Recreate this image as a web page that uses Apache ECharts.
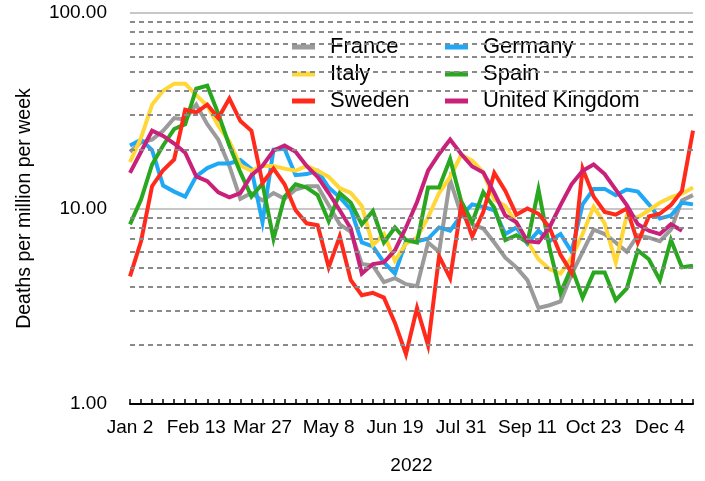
<!DOCTYPE html>
<html>
<head>
<meta charset="utf-8">
<script src="https://cdn.jsdelivr.net/npm/echarts@6/dist/echarts.min.js"></script>
<style>
html,body{margin:0;padding:0;background:#fff;}
#chart{width:705px;height:481px;}
</style>
</head>
<body>
<div id="chart"></div>
<script>
const categories = ["Jan 2","Jan 9","Jan 16","Jan 23","Jan 30","Feb 6","Feb 13","Feb 20","Feb 27","Mar 6","Mar 13","Mar 20","Mar 27","Apr 3","Apr 10","Apr 17","Apr 24","May 1","May 8","May 15","May 22","May 29","Jun 5","Jun 12","Jun 19","Jun 26","Jul 3","Jul 10","Jul 17","Jul 24","Jul 31","Aug 7","Aug 14","Aug 21","Aug 28","Sep 4","Sep 11","Sep 18","Sep 25","Oct 2","Oct 9","Oct 16","Oct 23","Oct 30","Nov 6","Nov 13","Nov 20","Nov 27","Dec 4","Dec 11","Dec 18","Dec 25"];

const france  = [19.5,21.8,22.5,25,29,28.5,34,27,22.5,16.5,11.2,12,11,12,11.2,12.5,13,13,10.4,8.3,7.6,5.2,5.1,4.2,4.4,4.1,4.0,6.7,6.0,14,9.3,8.3,7.9,6.7,5.6,5.0,4.3,3.1,3.2,3.35,4.6,6.0,7.8,7.4,6.7,6.0,7.3,7.1,6.8,7.8,11,11.7];
const germany = [21,22.5,19.9,13.1,12.2,11.5,14.6,16.1,17,17,17.7,15.9,8.5,20,20.2,14.8,15,15.6,12.8,11.4,9.9,6.7,6.4,5.3,4.65,6.8,6.8,7.0,8.0,7.7,9.2,10.5,10.2,9.8,7.4,8.0,6.6,7.7,6.8,7.4,6.0,10.5,12.6,12.6,11.7,12.5,12.2,10.5,8.9,9.2,10.7,10.5];
const italy   = [17.3,23,34,40,43.5,43.5,38,33.5,26.5,22,16.6,15.6,16.5,16.5,16,15.6,16.5,15.6,14.5,12.7,12,10.3,6.5,7.4,5.4,6.6,7.1,9,12,14.5,18.8,17.6,15.3,11.1,10.3,8.4,6.8,5.5,4.9,4.65,5.6,7.4,10.2,8.4,5.3,9.2,9,9.8,10.7,11.4,11.9,12.8];
const spain   = [8.3,11.1,16.8,21,25.5,27,41,42.5,30.5,21,15.3,11.5,13.4,7.0,11.5,13.3,12.8,11.7,8.6,12,10.7,8.3,9.7,6.7,8.0,6.9,6.7,12.8,12.8,17.9,10.9,8.5,12.1,10.1,6.9,7.3,6.7,12.5,6.3,3.7,5.0,3.5,4.7,4.7,3.4,3.9,6.1,5.5,4.3,6.9,5.0,5.1];
const sweden  = [4.5,6.8,13,15.7,17.8,32,31,34,29,36.5,28,25,13.5,16,13.3,9.8,8.4,8.2,5.0,7.2,4.3,3.6,3.7,3.5,2.6,1.8,3.1,2.0,5.7,4.4,10.3,7.2,9.6,15.2,12.3,9.3,10,9.4,8,5.8,4.7,16,11.5,9.6,9.3,10,6.7,9.1,9.4,10.4,12.3,25];
const uk      = [15.2,19.5,25,23.5,21.5,19.3,14.6,13.8,12.1,11.4,12,14.8,16.5,19.8,21,19.5,16.5,14.5,12,9.8,7.9,4.65,5.2,5.3,6.1,8.0,10.8,15.6,19,22.5,19,16.4,15.3,12,9.2,8.5,6.8,6.7,8.0,10.4,13.3,15.6,16.8,15,12.5,10.4,8.3,7.7,7.4,8.3,7.7,null];

const minorGrid = [2,3,4,5,6,7,8,9,20,30,40,50,60,70,80,90];

const seriesDefs = [
  {name:'France', data:france, color:'#9b9b9b'},
  {name:'Germany', data:germany, color:'#1ea8f6'},
  {name:'Italy', data:italy, color:'#ffd736'},
  {name:'Spain', data:spain, color:'#29a71f'},
  {name:'Sweden', data:sweden, color:'#ff2a1b'},
  {name:'United Kingdom', data:uk, color:'#c9207a'}
];

const chart = echarts.init(document.getElementById('chart'), null, {renderer:'canvas'});
const font = 'Liberation Sans, Arial, Helvetica, sans-serif';

const series = [{
  name:'_grid', type:'line', data:[], silent:true, z:1,
  markLine:{
    silent:true, symbol:['none','none'], label:{show:false},
    lineStyle:{type:[5,4], color:'#8a8a8a', width:2},
    emphasis:{disabled:true},
    animation:false,
    data: minorGrid.map(v => ({yAxis:v}))
  }
}].concat(seriesDefs.map(s => ({
  name:s.name, type:'line', data:s.data, showSymbol:false, symbol:'none',
  z:3, lineStyle:{width:4, color:s.color, join:'miter'}, itemStyle:{color:s.color},
  connectNulls:false, animation:false
})));

const legendCommon = {
  orient:'vertical', itemWidth:23, itemHeight:5, icon:'rect', itemGap:5,
  textStyle:{fontSize:22, color:'#000', fontFamily:font, lineHeight:22, padding:[0,0,0,10]},
  top:31
};

chart.setOption({
  animation:false,
  backgroundColor:'#fff',
  grid:{left:130, right:12, top:13, bottom:77, containLabel:false},
  legend:[
    Object.assign({}, legendCommon, {left:287, data:['France','Italy','Sweden']}),
    Object.assign({}, legendCommon, {left:440, data:['Germany','Spain','United Kingdom']})
  ],
  xAxis:{
    type:'category', data:categories, boundaryGap:false,
    name:'2022', nameLocation:'middle', nameGap:52,
    nameTextStyle:{fontSize:19, color:'#000', fontFamily:font},
    axisLine:{lineStyle:{color:'#000', width:2}},
    axisTick:{show:true, inside:true, length:5, interval:0, lineStyle:{color:'#000', width:1.5}},
    axisLabel:{interval:5, fontSize:19, color:'#000', fontFamily:font, margin:14},
    splitLine:{show:false}
  },
  yAxis:{
    type:'log', logBase:10, min:1, max:100,
    name:'Deaths per million per week', nameLocation:'middle', nameGap:95,
    nameTextStyle:{fontSize:19.5, color:'#000', fontFamily:font},
    axisLine:{show:false}, axisTick:{show:false},
    axisLabel:{fontSize:19, color:'#000', fontFamily:font, margin:23,
      formatter: v => Number(v).toFixed(2)},
    splitLine:{show:true, lineStyle:{color:'#b5b5b5', width:1.5}}
  },
  series: series
});
</script>
</body>
</html>
